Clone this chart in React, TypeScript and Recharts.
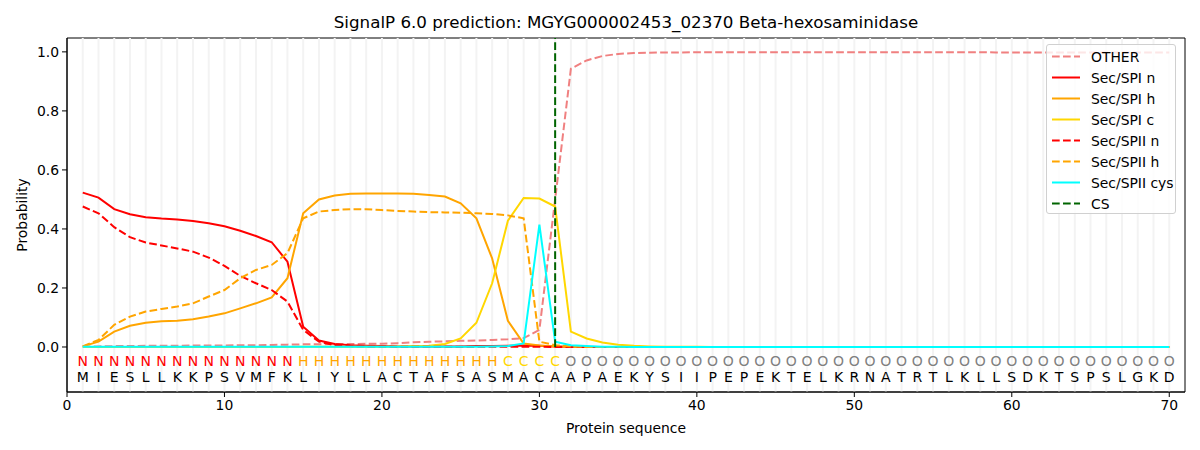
import React from 'react';
import { ComposedChart, Line, XAxis, YAxis, ReferenceLine, ReferenceArea } from 'recharts';

const sequence = 'MIESLLKKPSVMFKLIYLLACTAFSASMACAAPAEKYSIIPEPEKTELKRNATRTLKLLSDKTSPSLGKD'.split('');
const regionLabels = 'NNNNNNNNNNNNNNHHHHHHHHHHHHHCCCCOOOOOOOOOOOOOOOOOOOOOOOOOOOOOOOOOOOOOOO'.split('');

const otherVals = [
  0.001, 0.002, 0.003, 0.003, 0.004, 0.004, 0.004, 0.005, 0.005, 0.005,
  0.006, 0.006, 0.007, 0.008, 0.009, 0.009, 0.010, 0.010, 0.011, 0.011,
  0.013, 0.016, 0.018, 0.019, 0.021, 0.022, 0.024, 0.026, 0.030, 0.058,
  0.500, 0.943, 0.971, 0.986, 0.993, 0.996, 0.997, 0.998, 0.998, 0.999,
  0.999, 0.999, 0.999, 0.999, 0.999, 0.999, 0.999, 0.999, 0.999, 0.999,
  0.999, 0.999, 0.999, 0.999, 0.999, 0.999, 0.999, 0.999, 0.998, 0.998,
  0.998, 0.998, 0.998, 0.998, 0.998, 0.998, 0.998, 0.998, 0.998, 0.998,
];
const spiN = [
  0.523, 0.506, 0.467, 0.450, 0.440, 0.435, 0.432, 0.427, 0.419, 0.409,
  0.394, 0.376, 0.355, 0.289, 0.069, 0.022, 0.010, 0.006, 0.004, 0.003,
  0.002, 0.002, 0.002, 0.002, 0.002, 0.003, 0.003, 0.004, 0.005, 0.004,
  0.002, 0.001, 0, 0, 0, 0, 0, 0, 0, 0,
  0, 0, 0, 0, 0, 0, 0, 0, 0, 0,
  0, 0, 0, 0, 0, 0, 0, 0, 0, 0,
  0, 0, 0, 0, 0, 0, 0, 0, 0, 0,
];
const spiH = [
  0.002, 0.018, 0.052, 0.072, 0.082, 0.087, 0.089, 0.094, 0.103, 0.114,
  0.131, 0.148, 0.168, 0.233, 0.453, 0.500, 0.513, 0.519, 0.520, 0.520,
  0.520, 0.519, 0.515, 0.510, 0.487, 0.436, 0.300, 0.089, 0.012, 0.005,
  0.002, 0.001, 0, 0, 0, 0, 0, 0, 0, 0,
  0, 0, 0, 0, 0, 0, 0, 0, 0, 0,
  0, 0, 0, 0, 0, 0, 0, 0, 0, 0,
  0, 0, 0, 0, 0, 0, 0, 0, 0, 0,
];
const spiC = [
  0, 0, 0, 0, 0, 0, 0, 0, 0, 0,
  0, 0, 0, 0, 0.001, 0.001, 0.001, 0.001, 0.001, 0.001,
  0.002, 0.003, 0.004, 0.010, 0.029, 0.082, 0.216, 0.428, 0.505, 0.503,
  0.476, 0.052, 0.029, 0.015, 0.008, 0.004, 0.002, 0.001, 0.001, 0.001,
  0, 0, 0, 0, 0, 0, 0, 0, 0, 0,
  0, 0, 0, 0, 0, 0, 0, 0, 0, 0,
  0, 0, 0, 0, 0, 0, 0, 0, 0, 0,
];
const spiiN = [
  0.476, 0.453, 0.406, 0.372, 0.354, 0.344, 0.334, 0.323, 0.303, 0.275,
  0.241, 0.216, 0.193, 0.154, 0.058, 0.018, 0.006, 0.003, 0.002, 0.002,
  0.001, 0.001, 0.001, 0.001, 0.001, 0.001, 0.001, 0.001, 0.001, 0.001,
  0, 0, 0, 0, 0, 0, 0, 0, 0, 0,
  0, 0, 0, 0, 0, 0, 0, 0, 0, 0,
  0, 0, 0, 0, 0, 0, 0, 0, 0, 0,
  0, 0, 0, 0, 0, 0, 0, 0, 0, 0,
];
const spiiH = [
  0.002, 0.024, 0.075, 0.103, 0.120, 0.129, 0.137, 0.148, 0.171, 0.193,
  0.233, 0.261, 0.278, 0.318, 0.436, 0.459, 0.464, 0.467, 0.467, 0.464,
  0.461, 0.459, 0.457, 0.456, 0.455, 0.453, 0.451, 0.446, 0.436, 0.018,
  0.006, 0.002, 0, 0, 0, 0, 0, 0, 0, 0,
  0, 0, 0, 0, 0, 0, 0, 0, 0, 0,
  0, 0, 0, 0, 0, 0, 0, 0, 0, 0,
  0, 0, 0, 0, 0, 0, 0, 0, 0, 0,
];
const spiiCys = [
  0.001, 0.001, 0.001, 0.001, 0.001, 0.001, 0.001, 0.001, 0.001, 0.001,
  0.001, 0.001, 0.001, 0.001, 0.001, 0.001, 0.001, 0.001, 0.001, 0.001,
  0.001, 0.001, 0.001, 0.001, 0.001, 0.001, 0.002, 0.003, 0.012, 0.415,
  0.018, 0.006, 0.003, 0.001, 0.001, 0, 0, 0, 0, 0,
  0, 0, 0, 0, 0, 0, 0, 0, 0, 0,
  0, 0, 0, 0, 0, 0, 0, 0, 0, 0,
  0, 0, 0, 0, 0, 0, 0, 0, 0, 0,
];
const csPosition = 31;
const xTicks = [0, 10, 20, 30, 40, 50, 60, 70];
const yTicks = [0, 0.2, 0.4, 0.6, 0.8, 1.0];
const xDomain = [0, 71];
const yDomain = [-0.1525, 1.047];
const labelRowY = -0.047;
const seqRowY = -0.1;

const labelColors: Record<string, string> = { N: '#ff0000', H: '#ffa500', C: '#ffd700', O: '#808080' };

const data = sequence.map((aa, i) => ({
  pos: i + 1,
  aa,
  region: regionLabels[i],
  other: otherVals[i],
  spiN: spiN[i],
  spiH: spiH[i],
  spiC: spiC[i],
  spiiN: spiiN[i],
  spiiH: spiiH[i],
  spiiCys: spiiCys[i],
  labelRow: labelRowY,
  seqRow: seqRowY,
}));

const DASH = '7.7 3.3';
const FONT = '"DejaVu Sans", sans-serif';

const series = [
  { key: 'other', name: 'OTHER', color: '#f08080', dash: DASH },
  { key: 'spiN', name: 'Sec/SPI n', color: '#ff0000', dash: undefined },
  { key: 'spiH', name: 'Sec/SPI h', color: '#ffa500', dash: undefined },
  { key: 'spiC', name: 'Sec/SPI c', color: '#ffd700', dash: undefined },
  { key: 'spiiN', name: 'Sec/SPII n', color: '#ff0000', dash: DASH },
  { key: 'spiiH', name: 'Sec/SPII h', color: '#ffa500', dash: DASH },
  { key: 'spiiCys', name: 'Sec/SPII cys', color: '#00ffff', dash: undefined },
];
const legendItems = [...series, { key: 'cs', name: 'CS', color: '#006400', dash: DASH }];

const LabelDot = (props: any) => {
  const { cx, cy, payload, index } = props;
  return (
    <text key={'lab' + index} x={cx} y={cy} textAnchor="middle" dominantBaseline="central"
      fontSize={14} fontFamily={FONT} fill={labelColors[payload.region]}>
      {payload.region}
    </text>
  );
};
const SeqDot = (props: any) => {
  const { cx, cy, payload, index } = props;
  return (
    <text key={'seq' + index} x={cx} y={cy} textAnchor="middle" dominantBaseline="central"
      fontSize={14} fontFamily={FONT} fill="#000">
      {payload.aa}
    </text>
  );
};

export default function App() {
  return (
    <div style={{ position: 'relative', width: 1200, height: 450, fontFamily: FONT, background: '#fff' }}>
      <style>{'body{margin:0}'}</style>
      <div style={{ position: 'absolute', left: 67, width: 1118, top: 12, textAlign: 'center', fontSize: 16.7, lineHeight: '20px', color: '#000' }}>
        SignalP 6.0 prediction: MGYG000002453_02370 Beta-hexosaminidase
      </div>
      <div style={{ position: 'absolute', left: 67, width: 1118, top: 419, textAlign: 'center', fontSize: 13.9, lineHeight: '18px', color: '#000' }}>
        Protein sequence
      </div>
      <div style={{ position: 'absolute', left: 22, top: 215, transform: 'translate(-50%, -50%) rotate(-90deg)', fontSize: 13.9, lineHeight: '18px', whiteSpace: 'nowrap', color: '#000' }}>
        Probability
      </div>
      <ComposedChart width={1200} height={450} data={data} margin={{ top: 38, right: 15, bottom: 28, left: 0 }}>
        <XAxis dataKey="pos" type="number" domain={xDomain} ticks={xTicks} allowDataOverflow
          height={30} tickSize={5} tickMargin={3} stroke="#000"
          tick={{ fill: '#000', fontSize: 13.9, fontFamily: FONT }} tickLine={{ stroke: '#000' }} />
        <YAxis type="number" domain={yDomain} ticks={yTicks} allowDataOverflow width={67}
          tickSize={5} tickMargin={3} stroke="#000" tickFormatter={(v: number) => v.toFixed(1)}
          tick={{ fill: '#000', fontSize: 13.9, fontFamily: FONT }} tickLine={{ stroke: '#000' }} />
        {data.map((d) => (
          <ReferenceLine key={'g' + d.pos} x={d.pos} stroke="#f3f3f3" strokeWidth={2} />
        ))}
        {series.map((s) => (
          <Line key={s.key} dataKey={s.key} name={s.name} type="linear" stroke={s.color}
            strokeWidth={2} strokeDasharray={s.dash} dot={false} activeDot={false}
            isAnimationActive={false} />
        ))}
        <Line dataKey="labelRow" stroke="none" dot={LabelDot} activeDot={false} isAnimationActive={false} legendType="none" />
        <Line dataKey="seqRow" stroke="none" dot={SeqDot} activeDot={false} isAnimationActive={false} legendType="none" />
        <ReferenceLine segment={[{ x: csPosition, y: 0 }, { x: csPosition, y: yDomain[1] }]}
          stroke="#006400" strokeWidth={2} strokeDasharray={DASH} />
        <ReferenceArea x1={xDomain[0]} x2={xDomain[1]} y1={yDomain[0]} y2={yDomain[1]}
          fill="none" fillOpacity={0} stroke="#000" strokeWidth={1} />
      </ComposedChart>
      <div style={{ position: 'absolute', left: 1046, top: 44, width: 130, height: 170, border: '1px solid #d0d0d0', borderRadius: 3, background: 'rgba(255,255,255,0.8)', boxSizing: 'border-box' }}>
        {legendItems.map((it, i) => (
          <div key={it.key} style={{ position: 'absolute', left: 0, top: 1 + i * 21, height: 21, display: 'flex', alignItems: 'center' }}>
            <svg width={40} height={21} style={{ display: 'block' }}>
              <line x1={5} x2={33} y1={10.5} y2={10.5} stroke={it.color} strokeWidth={2} strokeDasharray={it.dash} />
            </svg>
            <span style={{ fontSize: 13.9, color: '#000', marginLeft: 4, whiteSpace: 'nowrap' }}>{it.name}</span>
          </div>
        ))}
      </div>
    </div>
  );
}
